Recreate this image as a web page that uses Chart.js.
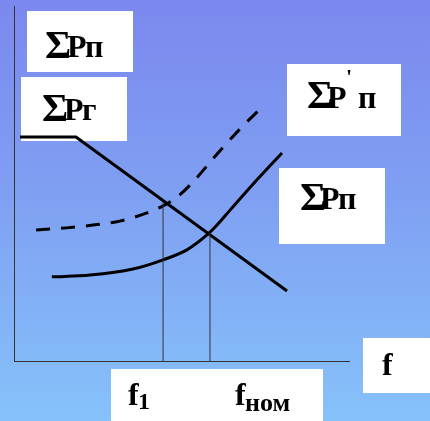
<!DOCTYPE html>
<html lang="ru">
<head>
    <meta charset="UTF-8"/>
    <title>Баланс мощностей</title>
    <style>
        html, body {
    margin: 0;
    padding: 0;
}
body {
    width: 430px;
    height: 421px;
    overflow: hidden;
    background: linear-gradient(to bottom, #7b88ee 0%, #7f9ff2 45%, #86c2fa 100%);
}
#wrap {
    position: relative;
    width: 430px;
    height: 421px;
}
    </style>
    <script src="https://cdn.jsdelivr.net/npm/chart.js"></script>
</head>
<body>
    <div id="wrap">
        <canvas id="myChart" width="430" height="421"></canvas>
    </div>
    <script>
        // частота f (условные единицы) и мощность P
        var genF = [1.8, 18.5, 81.5];
        var genP = [63.1, 63.1, 19.7];

        var loadF = [11.3, 22.7, 35.5, 44.5, 51.6, 57.6, 60.6, 64.5, 72.2, 80.0];
        var loadP = [23.7, 24.2, 25.9, 28.5, 31.3, 35.5, 38.3, 42.5, 50.7, 58.6];

        var load2F = [6.6, 15.8, 23.6, 31.6, 39.7, 44.5, 48.7, 53.1, 60.9, 67.5, 74.0];
        var load2P = [36.9, 37.5, 38.3, 39.4, 41.7, 43.7, 46.2, 50.1, 58.6, 65.4, 71.5];

        var dropF = [44.5, 58.5];      // f1, fном
        var dropP = [44.7, 36.1];

        function pts(xs, ys) {
            return xs.map(function (x, i) { return { x: x, y: ys[i] }; });
        }

        // подписи в белых рамках
        var SERIF = '"Liberation Serif", "DejaVu Serif", serif';
        var boxes = [
            { r: [27, 11, 106, 61], t: [['Σ', 40, 45, 58], ['P', 32, 67, 57], ['п', 32, 85, 57]] },
            { r: [21, 77, 106, 64], t: [['Σ', 40, 42, 121], ['P', 32, 64, 120], ['г', 32, 82, 120]] },
            { r: [287, 64, 114, 72], t: [['Σ', 40, 307, 108], ['P', 32, 327, 108], ['\'', 22, 346, 84], ['п', 32, 358, 108]] },
            { r: [279, 168, 106, 76], t: [['Σ', 40, 300, 210], ['P', 32, 320, 209], ['п', 32, 338, 209]] },
            { r: [111, 369, 212, 60], t: [['f', 32, 128, 405], ['1', 24, 138, 409], ['f', 32, 235, 405], ['ном', 26, 245, 411]] },
            { r: [363, 338, 70, 55], t: [['f', 32, 382, 375]] }
        ];

        var labelBoxes = {
            id: 'labelBoxes',
            beforeDatasetsDraw: function (chart) {
                var ctx = chart.ctx;
                ctx.save();
                boxes.forEach(function (b) {
                    ctx.fillStyle = '#ffffff';
                    ctx.fillRect(b.r[0], b.r[1], b.r[2], b.r[3]);
                    ctx.fillStyle = '#000000';
                    ctx.textBaseline = 'alphabetic';
                    ctx.textAlign = 'left';
                    b.t.forEach(function (s) {
                        ctx.font = 'bold ' + s[1] + 'px ' + SERIF;
                        ctx.fillText(s[0], s[2], s[3]);
                    });
                });
                ctx.restore();
            }
        };

        var ctx = document.getElementById('myChart').getContext('2d');
        var myChart = new Chart(ctx, {
            type: 'line',
            data: {
                datasets: [
                    {
                        label: 'f1',
                        data: pts([dropF[0], dropF[0]], [0, dropP[0]]),
                        borderColor: '#333333',
                        borderWidth: 1,
                        pointRadius: 0
                    },
                    {
                        label: 'fном',
                        data: pts([dropF[1], dropF[1]], [0, dropP[1]]),
                        borderColor: '#333333',
                        borderWidth: 1,
                        pointRadius: 0
                    },
                    {
                        label: "ΣP'п",
                        data: pts(load2F, load2P),
                        borderColor: '#000000',
                        borderWidth: 3,
                        borderDash: [14, 11],
                        pointRadius: 0,
                        cubicInterpolationMode: 'monotone'
                    },
                    {
                        label: 'ΣPп',
                        data: pts(loadF, loadP),
                        borderColor: '#000000',
                        borderWidth: 3,
                        pointRadius: 0,
                        cubicInterpolationMode: 'monotone'
                    },
                    {
                        label: 'ΣPг',
                        data: pts(genF, genP),
                        borderColor: '#000000',
                        borderWidth: 3,
                        pointRadius: 0,
                        tension: 0
                    }
                ]
            },
            options: {
                responsive: false,
                animation: false,
                events: [],
                layout: {
                    padding: { left: 14, top: 6, right: 81, bottom: 60 }
                },
                plugins: {
                    legend: { display: false },
                    tooltip: { enabled: false }
                },
                scales: {
                    x: {
                        type: 'linear',
                        min: 0,
                        max: 100,
                        grid: { display: false, drawTicks: false },
                        ticks: { display: false },
                        border: { display: true, color: '#333333', width: 1 }
                    },
                    y: {
                        type: 'linear',
                        min: 0,
                        max: 100,
                        grid: { display: false, drawTicks: false },
                        ticks: { display: false },
                        border: { display: true, color: '#333333', width: 1 }
                    }
                }
            },
            plugins: [labelBoxes]
        });
    </script>
</body>
</html>
